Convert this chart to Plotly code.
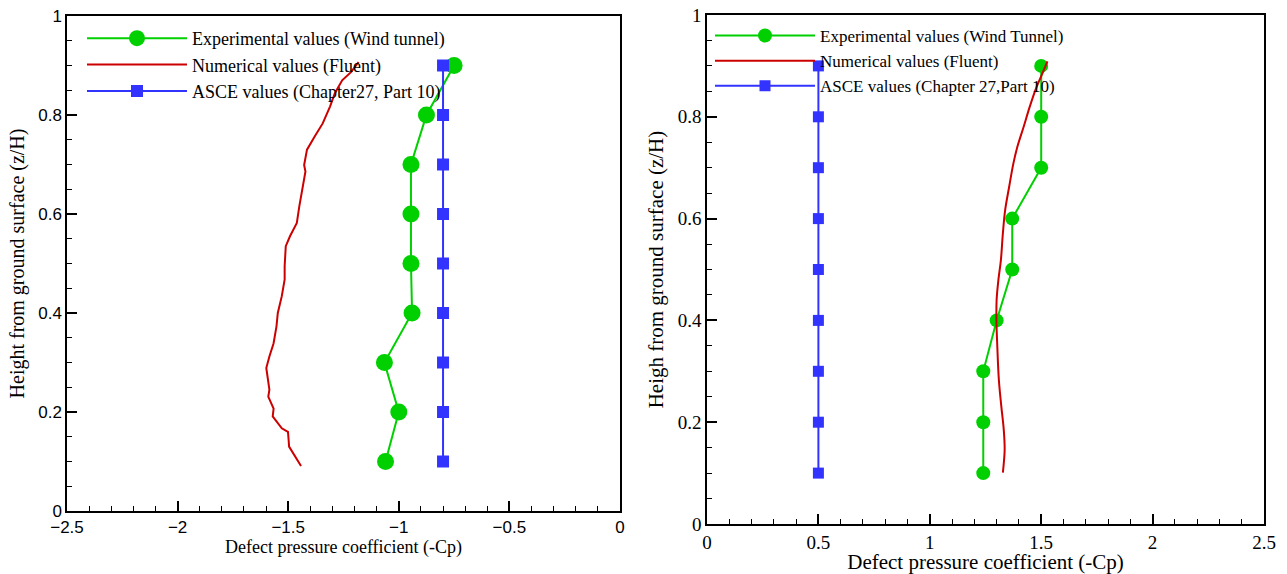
import plotly.graph_objects as go

# ---------------- data ----------------
heights = [0.1, 0.2, 0.3, 0.4, 0.5, 0.6, 0.7, 0.8, 0.9]

# Left panel
left_exp_cp = [-1.06, -1.00, -1.065, -0.94, -0.945, -0.945, -0.945, -0.875, -0.75]
left_asce_cp = [-0.80] * 9
left_num_z = [0.091, 0.113, 0.130, 0.143, 0.160, 0.167, 0.191, 0.207, 0.231, 0.245,
              0.272, 0.289, 0.312, 0.339, 0.373, 0.400, 0.434, 0.468, 0.495, 0.535,
              0.555, 0.582, 0.615, 0.649, 0.686, 0.699, 0.730, 0.756, 0.783, 0.817,
              0.844, 0.870, 0.887, 0.907]
left_num_cp = [-1.442, -1.474, -1.496, -1.498, -1.501, -1.529, -1.570, -1.566, -1.590, -1.585,
               -1.593, -1.599, -1.585, -1.566, -1.553, -1.547, -1.529, -1.516, -1.516, -1.511,
               -1.492, -1.461, -1.450, -1.437, -1.422, -1.428, -1.415, -1.381, -1.344, -1.311,
               -1.289, -1.256, -1.215, -1.182]

# Right panel
right_exp_cp = [1.24, 1.24, 1.24, 1.30, 1.37, 1.37, 1.50, 1.50, 1.50]
right_asce_cp = [0.50] * 9
right_num_z = [0.101, 0.119, 0.146, 0.185, 0.231, 0.283, 0.349, 0.401, 0.441, 0.480,
               0.518, 0.571, 0.616, 0.662, 0.708, 0.741, 0.780, 0.819, 0.855, 0.884, 0.909]
right_num_cp = [1.328, 1.332, 1.336, 1.332, 1.321, 1.310, 1.303, 1.299, 1.300, 1.308,
                1.319, 1.328, 1.338, 1.356, 1.375, 1.393, 1.421, 1.448, 1.476, 1.504, 1.528]

left_names = ["Experimental values (Wind tunnel)", "Numerical values (Fluent)",
              "ASCE values (Chapter27, Part 10)"]
right_names = ["Experimental values (Wind Tunnel)", "Numerical values (Fluent)",
               "ASCE values (Chapter 27,Part 10)"]

GREEN = "#00d000"
RED = "#cc0000"
BLUE = "#3333ff"
SERIF = "Liberation Serif, Times New Roman, serif"
SANS = "Liberation Sans, Arial, sans-serif"

W, H = 1287, 574

fig = go.Figure()

# Left traces
fig.add_trace(go.Scatter(x=left_exp_cp, y=heights, mode="lines+markers", name=left_names[0],
                         line=dict(color=GREEN, width=2), marker=dict(symbol="circle", size=17, color=GREEN),
                         xaxis="x", yaxis="y", legend="legend"))
fig.add_trace(go.Scatter(x=left_num_cp, y=left_num_z, mode="lines", name=left_names[1],
                         line=dict(color=RED, width=2),
                         xaxis="x", yaxis="y", legend="legend"))
fig.add_trace(go.Scatter(x=left_asce_cp, y=heights, mode="lines+markers", name=left_names[2],
                         line=dict(color=BLUE, width=2), marker=dict(symbol="square", size=12, color=BLUE),
                         xaxis="x", yaxis="y", legend="legend"))

# Right traces
fig.add_trace(go.Scatter(x=right_exp_cp, y=heights, mode="lines+markers", name=right_names[0],
                         line=dict(color=GREEN, width=2), marker=dict(symbol="circle", size=14, color=GREEN),
                         xaxis="x2", yaxis="y2", legend="legend2"))
fig.add_trace(go.Scatter(x=right_num_cp, y=right_num_z, mode="lines", name=right_names[1],
                         line=dict(color=RED, width=2, shape="spline"),
                         xaxis="x2", yaxis="y2", legend="legend2"))
fig.add_trace(go.Scatter(x=right_asce_cp, y=heights, mode="lines+markers", name=right_names[2],
                         line=dict(color=BLUE, width=2), marker=dict(symbol="square", size=11, color=BLUE),
                         xaxis="x2", yaxis="y2", legend="legend2"))

def px_x(p):
    return p / W

def px_y(p):
    return 1 - p / H

common_axis = dict(showgrid=False, zeroline=False, showline=True, linecolor="black", linewidth=1.5,
                   mirror=True, ticks="inside", tickcolor="black", tickwidth=2, ticklen=10,
                   automargin=False)

fig.update_layout(
    width=W, height=H,
    margin=dict(l=0, r=0, t=0, b=0),
    paper_bgcolor="white", plot_bgcolor="white",
    xaxis=dict(**common_axis, domain=[px_x(67), px_x(620)], range=[-2.5, 0], dtick=0.5,
               tickfont=dict(family=SANS, size=17, color="black"),
               minor=dict(dtick=0.1, ticks="inside", ticklen=5, tickwidth=1, tickcolor="black"),
               title=dict(text="Defect pressure coefficient (-Cp)", standoff=4,
                          font=dict(family=SERIF, size=18, color="black")),
               anchor="y"),
    yaxis=dict(**common_axis, domain=[px_y(511), px_y(16)], range=[0, 1], dtick=0.2,
               tickfont=dict(family=SANS, size=17, color="black"),
               minor=dict(dtick=0.05, ticks="inside", ticklen=5, tickwidth=1, tickcolor="black"),
               title=dict(text="Height from ground surface (z/H)", standoff=8,
                          font=dict(family=SERIF, size=20, color="black")),
               anchor="x"),
    xaxis2=dict(**common_axis, domain=[px_x(707), px_x(1264)], range=[0, 2.5], dtick=0.5,
                tickfont=dict(family=SERIF, size=19, color="black"),
                minor=dict(dtick=0.1, ticks="inside", ticklen=5, tickwidth=1, tickcolor="black"),
                title=dict(text="Defect pressure coefficient (-Cp)", standoff=2,
                           font=dict(family=SERIF, size=21, color="black")),
                anchor="y2"),
    yaxis2=dict(**common_axis, domain=[px_y(524), px_y(15)], range=[0, 1], dtick=0.2,
                tickfont=dict(family=SERIF, size=19, color="black"),
                minor=dict(dtick=0.05, ticks="inside", ticklen=5, tickwidth=1, tickcolor="black"),
                title=dict(text="Heigh from ground surface (z/H)", standoff=8,
                           font=dict(family=SERIF, size=21, color="black")),
                anchor="x2"),
    legend=dict(x=px_x(82), y=px_y(20), xanchor="left", yanchor="top", itemwidth=100,
                bgcolor="rgba(0,0,0,0)", font=dict(family=SERIF, size=18, color="black"),
                tracegroupgap=0),
    legend2=dict(x=px_x(710), y=px_y(18), xanchor="left", yanchor="top", itemwidth=100,
                 bgcolor="rgba(0,0,0,0)", font=dict(family=SERIF, size=17, color="black"),
                 tracegroupgap=0),
    showlegend=True,
)

fig.write_html("out.html")
